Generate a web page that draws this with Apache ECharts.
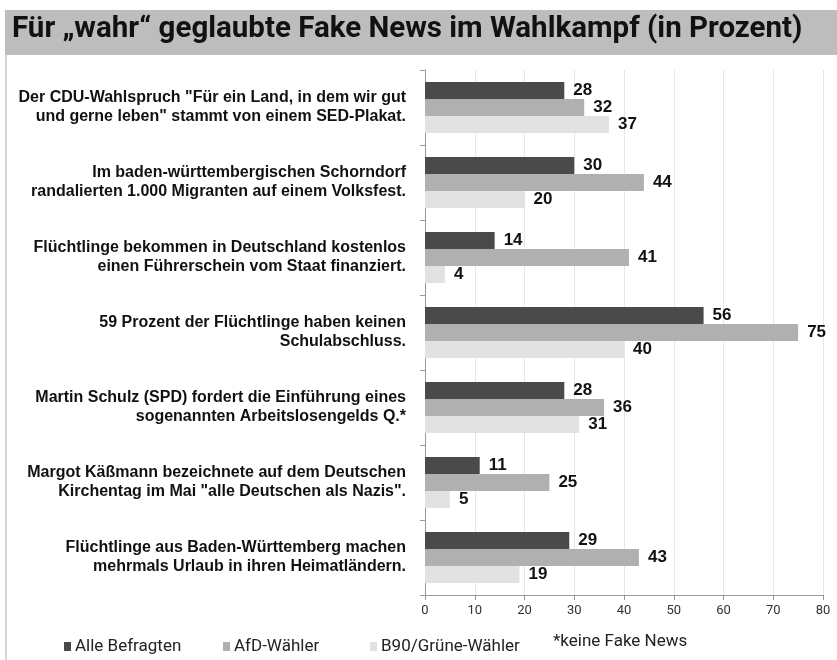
<!DOCTYPE html>
<html><head><meta charset="utf-8">
<script src="https://cdn.jsdelivr.net/npm/echarts@6/dist/echarts.min.js"></script>
<style>html,body{margin:0;padding:0;background:#fff}#c{width:837px;height:660px}</style>
</head><body><div id="c"></div>
<script>
const categories = [
  'Der CDU-Wahlspruch "Für ein Land, in dem wir gut\nund gerne leben" stammt von einem SED-Plakat.',
  'Im baden-württembergischen Schorndorf\nrandalierten 1.000 Migranten auf einem Volksfest.',
  'Flüchtlinge bekommen in Deutschland kostenlos\neinen Führerschein vom Staat finanziert.',
  '59 Prozent der Flüchtlinge haben keinen\nSchulabschluss.',
  'Martin Schulz (SPD) fordert die Einführung eines\nsogenannten Arbeitslosengelds Q.*',
  'Margot Käßmann bezeichnete auf dem Deutschen\nKirchentag im Mai "alle Deutschen als Nazis".',
  'Flüchtlinge aus Baden-Württemberg machen\nmehrmals Urlaub in ihren Heimatländern.'
];
const seriesNames = ['Alle Befragten', 'AfD-Wähler', 'B90/Grüne-Wähler'];
const alleBefragten = [28, 30, 14, 56, 28, 11, 29];
const afdWaehler = [32, 44, 41, 75, 36, 25, 43];
const gruenWaehler = [37, 20, 4, 40, 31, 5, 19];
const xTicks = [0, 10, 20, 30, 40, 50, 60, 70, 80];

const colors = ['#4a4a4a', '#b0b0b0', '#e2e2e2'];
const condensed = 'Roboto, sans-serif';
const chart = echarts.init(document.getElementById('c'));
const mk = (name, data, i) => ({
  name, type: 'bar', data, barWidth: 17, barGap: '0%',
  itemStyle: { color: colors[i] },
  label: { show: true, position: 'right', distance: 9, color: '#111',
    fontFamily: '"Liberation Sans", Arial, sans-serif', fontWeight: 'bold', fontSize: 17 },
  emphasis: { disabled: true }
});
const legendLefts = [64, 223, 370];
const legends = seriesNames.map((n, i) => ({
  data: [n], left: legendLefts[i], top: 638, itemWidth: 7, itemHeight: 9, icon: 'rect',
  padding: 0, itemGap: 0, selectedMode: false,
  textStyle: { fontFamily: condensed, fontSize: 17, color: '#222', padding: [0, 0, 0, -1] }
}));
chart.setOption({
  animation: false,
  graphic: [
    { type: 'rect', shape: { x: 5, y: 10, width: 832, height: 45 }, style: { fill: '#bdbdbd' } },
    { type: 'rect', shape: { x: 5, y: 55, width: 2, height: 605 }, style: { fill: '#d6d6d6' } },
    { type: 'text', left: 12, top: 15, style: { text: 'Für „wahr“ geglaubte Fake News im Wahlkampf (in Prozent)',
      fontFamily: 'Roboto, sans-serif', fontWeight: 'bold', fontSize: 29.5, fill: '#111' } },
    { type: 'text', left: 553, top: 633, style: { text: '*keine Fake News',
      fontFamily: condensed, fontSize: 17, fill: '#222' } }
  ],
  legend: legends,
  grid: { left: 425, right: 14, top: 70, bottom: 65 },
  xAxis: {
    type: 'value', min: 0, max: 80, interval: 10,
    axisLine: { show: true, lineStyle: { color: '#999' } },
    axisTick: { show: true, length: 5, lineStyle: { color: '#999' } },
    splitLine: { show: true, lineStyle: { color: '#e6e6e6' } },
    axisLabel: { fontFamily: condensed, fontSize: 13, color: '#333', margin: 9,
      formatter: v => xTicks.includes(v) ? String(v) : '' }
  },
  yAxis: {
    type: 'category', data: categories, inverse: true,
    axisLine: { show: true, lineStyle: { color: '#999' } },
    axisTick: { show: true, length: 5, lineStyle: { color: '#999' } },
    axisLabel: { fontFamily: '"Liberation Sans", Arial, sans-serif', fontWeight: 'bold', fontSize: 16,
      color: '#111', lineHeight: 19, margin: 19, align: 'right' }
  },
  series: [mk(seriesNames[0], alleBefragten, 0), mk(seriesNames[1], afdWaehler, 1), mk(seriesNames[2], gruenWaehler, 2)]
});
</script></body></html>
